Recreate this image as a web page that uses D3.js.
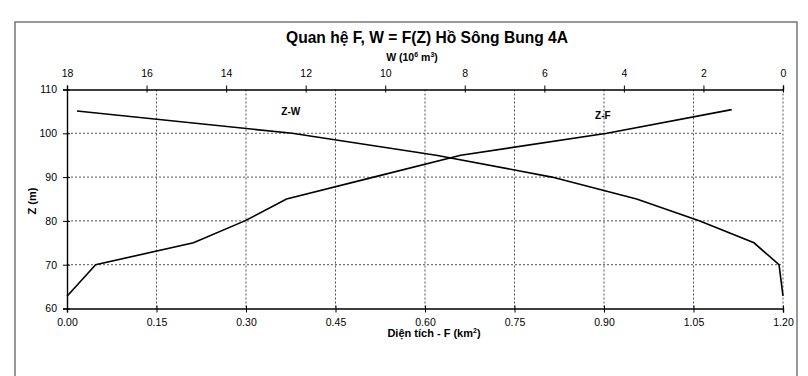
<!DOCTYPE html>
<html>
<head>
<meta charset="utf-8">
<script src="https://cdn.jsdelivr.net/npm/d3@7"></script>
<style>
  body { margin: 0; background: #fff; }
</style>
</head>
<body>
<div id="chart"></div>
<script>
// Z-F curve: water level (m) vs surface area F (km2)
var zF = [62.8, 70, 75, 80, 85, 90, 95, 100, 105.4];
var fValues = [0, 0.048, 0.212, 0.298, 0.368, 0.514, 0.66, 0.905, 1.114];

// Z-W curve: water level (m) vs volume W (10^6 m3)
var zW = [62.9, 70, 75, 80, 85, 90, 95, 100, 105.1];
var wValues = [0, 0.10, 0.73, 2.09, 3.68, 5.81, 8.72, 12.34, 17.75];

// tick labels
var fTicks = [0, 0.15, 0.30, 0.45, 0.60, 0.75, 0.90, 1.05, 1.20];
var wTicks = [18, 16, 14, 12, 10, 8, 6, 4, 2, 0];
var zTicks = [60, 70, 80, 90, 100, 110];

var width = 808, height = 376;
var sans = "'Liberation Sans', Arial, sans-serif";

const svg = d3.select("#chart")
  .append("svg")
    .attr("width", width)
    .attr("height", height);

// outer chart frame (bottom edge runs off the page, like the scan)
svg.append("rect")
  .attr("x", 15).attr("y", 22)
  .attr("width", 782).attr("height", 380)
  .attr("fill", "none")
  .attr("stroke", "#555")
  .attr("stroke-width", 1.2);

// scales
const x = d3.scaleLinear().domain([0, 1.2]).range([67, 783]);
const xW = d3.scaleLinear().domain([18, 0]).range([67, 783]);
const y = d3.scaleLinear().domain([60, 110]).range([308.5, 89.5]);

// grid lines (dotted)
svg.append("g")
  .selectAll("line")
  .data(zTicks.filter(function(d) { return d > 60 && d < 110; }))
  .join("line")
    .attr("x1", x(0)).attr("x2", x(1.2))
    .attr("y1", function(d) { return y(d); })
    .attr("y2", function(d) { return y(d); })
    .attr("stroke", "#555")
    .attr("stroke-width", 1)
    .attr("stroke-dasharray", "2,2");

svg.append("g")
  .selectAll("line")
  .data(fTicks.filter(function(d) { return d > 0; }))
  .join("line")
    .attr("x1", function(d) { return x(d); })
    .attr("x2", function(d) { return x(d); })
    .attr("y1", y(110)).attr("y2", y(60))
    .attr("stroke", "#555")
    .attr("stroke-width", 1)
    .attr("stroke-dasharray", "2,2");

// left axis
svg.append("g")
  .attr("transform", `translate(${x(0)},0)`)
  .call(d3.axisLeft(y).tickValues(zTicks).tickSize(4).tickPadding(6))
  .call(function(g) {
    g.select(".domain").attr("stroke", "#000").attr("stroke-width", 1.4);
    g.selectAll(".tick line").attr("x1", 3);
    g.selectAll("text").style("font-family", sans).style("font-size", "10.5px");
  });

// bottom axis
svg.append("g")
  .attr("transform", `translate(0,${y(60)})`)
  .call(d3.axisBottom(x).tickValues(fTicks).tickFormat(d3.format(".2f")).tickSize(4).tickPadding(6))
  .call(function(g) {
    g.select(".domain").attr("stroke", "#000").attr("stroke-width", 1.4);
    g.selectAll(".tick line").attr("y1", -3);
    g.selectAll("text").style("font-family", sans).style("font-size", "10.5px");
  });

// top axis (W)
svg.append("g")
  .attr("transform", `translate(0,${y(110)})`)
  .call(d3.axisTop(xW).tickValues(wTicks).tickFormat(d3.format("d")).tickSize(4).tickPadding(9))
  .call(function(g) {
    g.select(".domain").attr("stroke", "#000").attr("stroke-width", 1.4);
    g.selectAll(".tick line").attr("y1", 3);
    g.selectAll("text").style("font-family", sans).style("font-size", "10.5px");
  });

// Z-F curve
const lineF = d3.line()
  .x(function(d) { return x(d[1]); })
  .y(function(d) { return y(d[0]); });
svg.append("path")
  .datum(d3.zip(zF, fValues))
  .attr("d", lineF)
  .attr("fill", "none")
  .attr("stroke", "#000")
  .attr("stroke-width", 1.6);

// Z-W curve
const lineW = d3.line()
  .x(function(d) { return xW(d[1]); })
  .y(function(d) { return y(d[0]); });
svg.append("path")
  .datum(d3.zip(zW, wValues))
  .attr("d", lineW)
  .attr("fill", "none")
  .attr("stroke", "#000")
  .attr("stroke-width", 1.6);

// curve labels
svg.append("text")
  .attr("x", x(0.375)).attr("y", y(104.2))
  .attr("text-anchor", "middle")
  .style("font-family", sans).style("font-size", "10px").style("font-weight", "bold")
  .text("Z-W");
svg.append("text")
  .attr("x", x(0.898)).attr("y", y(103.3))
  .attr("text-anchor", "middle")
  .style("font-family", sans).style("font-size", "10px").style("font-weight", "bold")
  .text("Z-F");

// title (narrow look: squeeze Arial-metric bold)
svg.append("text")
  .attr("x", 427).attr("y", 43)
  .attr("text-anchor", "middle")
  .attr("textLength", 282)
  .attr("lengthAdjust", "spacingAndGlyphs")
  .style("font-family", sans).style("font-size", "17px").style("font-weight", "bold")
  .text("Quan hệ F, W = F(Z) Hồ Sông Bung 4A");

// top axis title
const wt = svg.append("text")
  .attr("x", 412).attr("y", 61)
  .attr("text-anchor", "middle")
  .style("font-family", sans).style("font-size", "10.5px").style("font-weight", "bold");
wt.append("tspan").text("W (10");
wt.append("tspan").attr("dy", -4).style("font-size", "7px").text("6");
wt.append("tspan").attr("dy", 4).text(" m");
wt.append("tspan").attr("dy", -4).style("font-size", "7px").text("3");
wt.append("tspan").attr("dy", 4).text(")");

// bottom axis title
const ft = svg.append("text")
  .attr("x", 434).attr("y", 337)
  .attr("text-anchor", "middle")
  .style("font-family", sans).style("font-size", "11px").style("font-weight", "bold");
ft.append("tspan").text("Diện tích - F (km");
ft.append("tspan").attr("dy", -4).style("font-size", "7px").text("2");
ft.append("tspan").attr("dy", 4).text(")");

// left axis title
svg.append("text")
  .attr("transform", "translate(36,201) rotate(-90)")
  .attr("text-anchor", "middle")
  .style("font-family", sans).style("font-size", "11px").style("font-weight", "bold")
  .text("Z (m)");
</script>
</body>
</html>
